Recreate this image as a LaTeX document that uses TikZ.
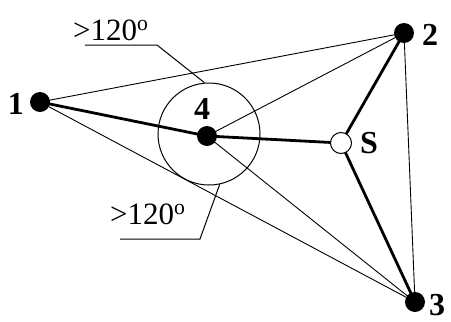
\documentclass[tikz,border=0pt]{standalone}
\usepackage{fontspec}
\setmainfont{Liberation Serif}
\begin{document}
\begin{tikzpicture}[x=1pt,y=-1pt,
  dot/.style={circle,fill=black,inner sep=0pt,minimum size=20pt},
  opendot/.style={circle,draw=black,fill=white,line width=1pt,inner sep=0pt,minimum size=21pt},
  lbl/.style={font=\fontsize{32}{32}\selectfont\bfseries,inner sep=0pt},
  ang/.style={font=\fontsize{31}{31}\selectfont,inner sep=0pt,anchor=base west},
  thin/.style={line width=0.9pt},
  heavy/.style={line width=2.8pt},
  lead/.style={line width=1pt}]
\useasboundingbox (0,0) rectangle (451,322);
\coordinate (n1) at (40,102);
\coordinate (n4) at (207,136);
\coordinate (n2) at (404,33);
\coordinate (nS) at (341,143);
\coordinate (n3) at (415,302);
% thin lines
\draw[thin] (n1) -- (n2);
\draw[thin] (n1) -- (n3);
\draw[thin] (n4) -- (n2);
\draw[thin] (n4) -- (n3);
\draw[thin] (n2) -- (n3);
% circle
\node[circle,draw,line width=1pt,minimum size=102pt,inner sep=0pt] (c) at (209,134) {};
% heavy lines
\draw[heavy] (n1) -- (n4);
\draw[heavy] (n4) -- (nS);
\draw[heavy] (nS) -- (n2);
\draw[heavy] (nS) -- (n3);
% dots
\node[dot] (d1) at (n1) {};
\node[dot] (d4) at (n4) {};
\node[dot] (d2) at (n2) {};
\node[dot] (d3) at (n3) {};
\node[opendot] (dS) at (nS) {};
% labels
\node[lbl] (l1) at (16,104) {1};
\node[lbl] (l4) at (202,109) {4};
\node[lbl] (l2) at (430,35) {2};
\node[lbl] (lS) at (369,143) {S};
\node[lbl] (l3) at (437,305) {3};
% angle labels
\node[ang] (a1) at (73,40) {>120\textsuperscript{o}};
\node[ang] (a2) at (110,224) {>120\textsuperscript{o}};
\coordinate (u1a) at (85,45);
\coordinate (u1b) at (157,45);
\coordinate (u2a) at (120,239);
\coordinate (u2b) at (200,239);
\draw[lead] (u1a) -- (u1b) -- (c.95);
\draw[lead] (u2a) -- (u2b) -- (c.-78);
\end{tikzpicture}
\end{document}
